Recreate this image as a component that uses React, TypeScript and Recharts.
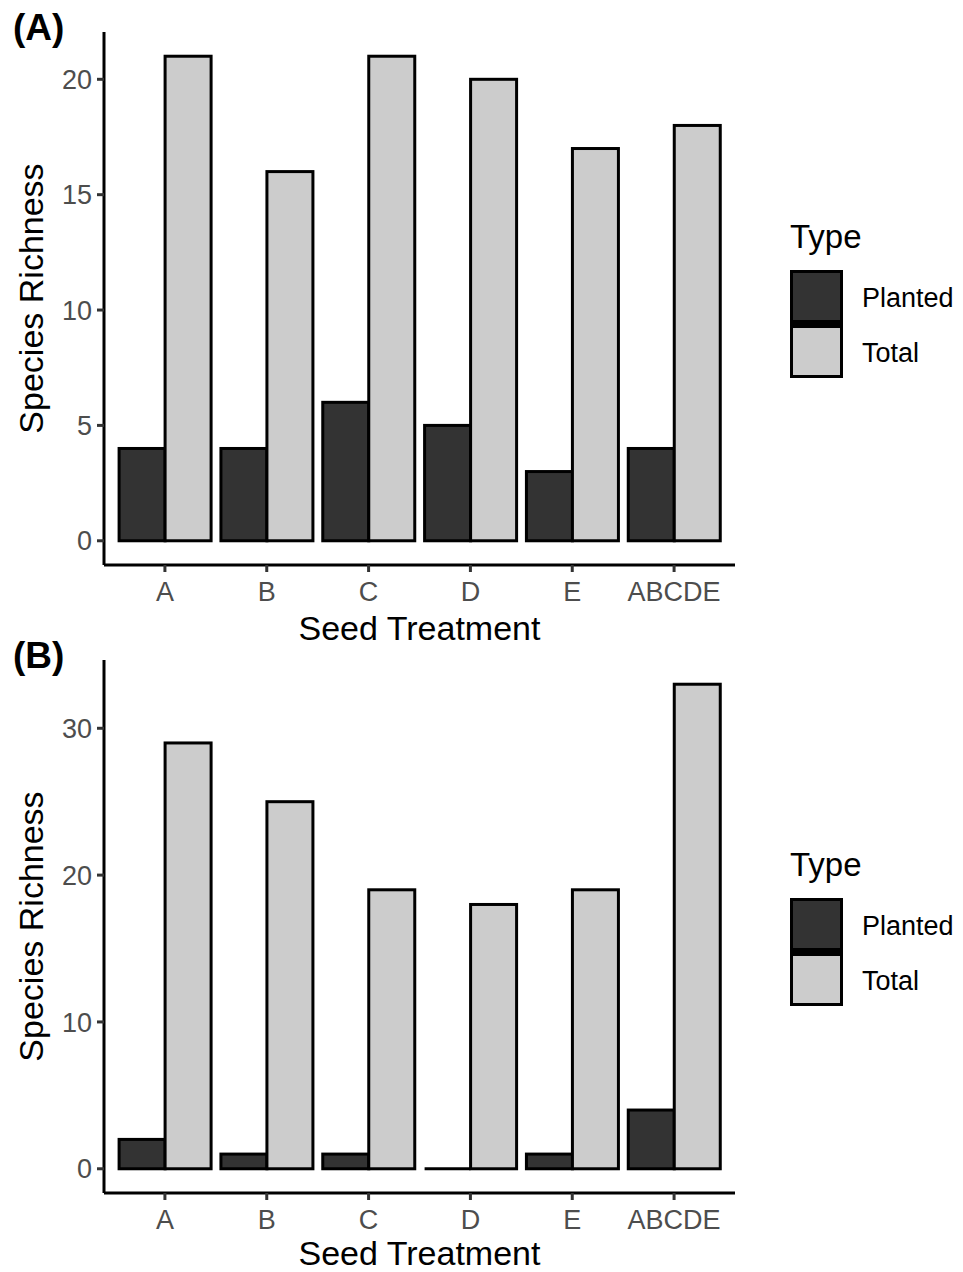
import React from 'react';
import { BarChart, Bar, XAxis, YAxis, Legend, Customized } from 'recharts';

const categories = ['A', 'B', 'C', 'D', 'E', 'ABCDE'];
const seriesNames = ['Planted', 'Total'];
const seriesColors = ['#333333', '#CCCCCC'];
const plantedA = [4, 4, 6, 5, 3, 4];
const totalA = [21, 16, 21, 20, 17, 18];
const plantedB = [2, 1, 1, 0, 1, 4];
const totalB = [29, 25, 19, 18, 19, 33];
const ticksA = [0, 5, 10, 15, 20];
const ticksB = [0, 10, 20, 30];

const FONT = '"Liberation Sans", Arial, sans-serif';

const build = (planted: number[], total: number[]) =>
  categories.map((c, i) => ({ cat: c, Planted: planted[i], Total: total[i] }));

const BarShape = (p: any) => {
  const { x, y, width, height, fill } = p;
  if (!height || Math.abs(height) < 0.5) {
    return <line x1={x} x2={x + width} y1={y} y2={y} stroke="#000" strokeWidth={3} />;
  }
  return <rect x={x} y={y} width={width} height={height} fill={fill} stroke="#000" strokeWidth={3} />;
};

const LegendContent = (props: any) => {
  const payload = props.payload || [];
  const items = seriesNames.map((n, i) => {
    const found = payload.find((p: any) => p.value === n);
    return { name: n, color: found ? found.color : seriesColors[i] };
  });
  return (
    <svg width={183} height={180} style={{ overflow: 'visible', display: 'block' }}>
      <text x={10} y={38} fontFamily={FONT} fontSize={33} fill="#000">Type</text>
      <rect x={10} y={60} width={53} height={108} fill="#000" />
      {items.map((it, i) => (
        <g key={it.name}>
          <rect x={13} y={63 + i * 55} width={47} height={47} fill={it.color} />
          <text x={82} y={88 + i * 55} fontFamily={FONT} fontSize={27} fill="#000" dominantBaseline="central">{it.name}</text>
        </g>
      ))}
    </svg>
  );
};

const YTitle = (props: any) => {
  const vb = props.viewBox || {};
  const cy = vb.y + vb.height / 2;
  const x = 43;
  return (
    <text x={x} y={cy} transform={`rotate(-90, ${x}, ${cy})`} textAnchor="middle" fontFamily={FONT} fontSize={34} fill="#000">
      Species Richness
    </text>
  );
};

const makeXTitle = (baseline: number) => (props: any) => {
  const vb = props.viewBox || {};
  const cx = vb.x + vb.width / 2;
  return (
    <text x={cx} y={baseline} textAnchor="middle" fontFamily={FONT} fontSize={34} fill="#000">
      Seed Treatment
    </text>
  );
};

type PanelProps = {
  tag: string; planted: number[]; total: number[]; ticks: number[]; domain: [number, number];
  top: number; titleY: number; height: number;
};

const Panel = ({ tag, planted, total, ticks, domain, top, titleY, height }: PanelProps) => {
  const data = build(planted, total);
  const XTitle = makeXTitle(titleY);
  return (
    <div style={{ position: 'absolute', left: 0, top }}>
      <BarChart width={963} height={height} data={data} margin={{ top: 32, right: 228, bottom: 0, left: 0 }} barCategoryGap="5%" barGap={0}>
        <XAxis
          dataKey="cat"
          type="category"
          padding={{ left: 10, right: 10 }}
          height={height - 565}
          tickSize={7}
          tickMargin={10}
          axisLine={{ stroke: '#000', strokeWidth: 3 }}
          tickLine={{ stroke: '#333', strokeWidth: 3 }}
          tick={{ fill: '#4D4D4D', fontSize: 27, fontFamily: FONT }}
          interval={0}
          label={<XTitle />}
        />
        <YAxis
          type="number"
          domain={domain}
          ticks={ticks}
          width={104}
          tickSize={7}
          tickMargin={5}
          axisLine={{ stroke: '#000', strokeWidth: 3 }}
          tickLine={{ stroke: '#333', strokeWidth: 3 }}
          tick={{ fill: '#4D4D4D', fontSize: 27, fontFamily: FONT }}
          interval={0}
          allowDataOverflow
          label={<YTitle />}
        />
        <Bar dataKey="Planted" name="Planted" fill={seriesColors[0]} shape={BarShape} isAnimationActive={false} />
        <Bar dataKey="Total" name="Total" fill={seriesColors[1]} shape={BarShape} isAnimationActive={false} />
        <Legend
          layout="horizontal"
          align="center"
          verticalAlign="middle"
          content={LegendContent}
          wrapperStyle={{ left: 780, top: 210, width: 183, height: 180 }}
        />
        <Customized
          component={() => (
            <text x={13} y={40} fontFamily={FONT} fontSize={37} fontWeight="bold" fill="#000">{tag}</text>
          )}
        />
      </BarChart>
    </div>
  );
};

export default function App() {
  return (
    <div style={{ position: 'absolute', left: 0, top: 0, width: 963, height: 1272, background: '#fff' }}>
      <Panel tag="(A)" planted={plantedA} total={totalA} ticks={ticksA} domain={[-1.05, 22.05]} top={0} titleY={640} height={652} />
      <Panel tag="(B)" planted={plantedB} total={totalB} ticks={ticksB} domain={[-1.65, 34.65]} top={628} titleY={637} height={644} />
    </div>
  );
}
